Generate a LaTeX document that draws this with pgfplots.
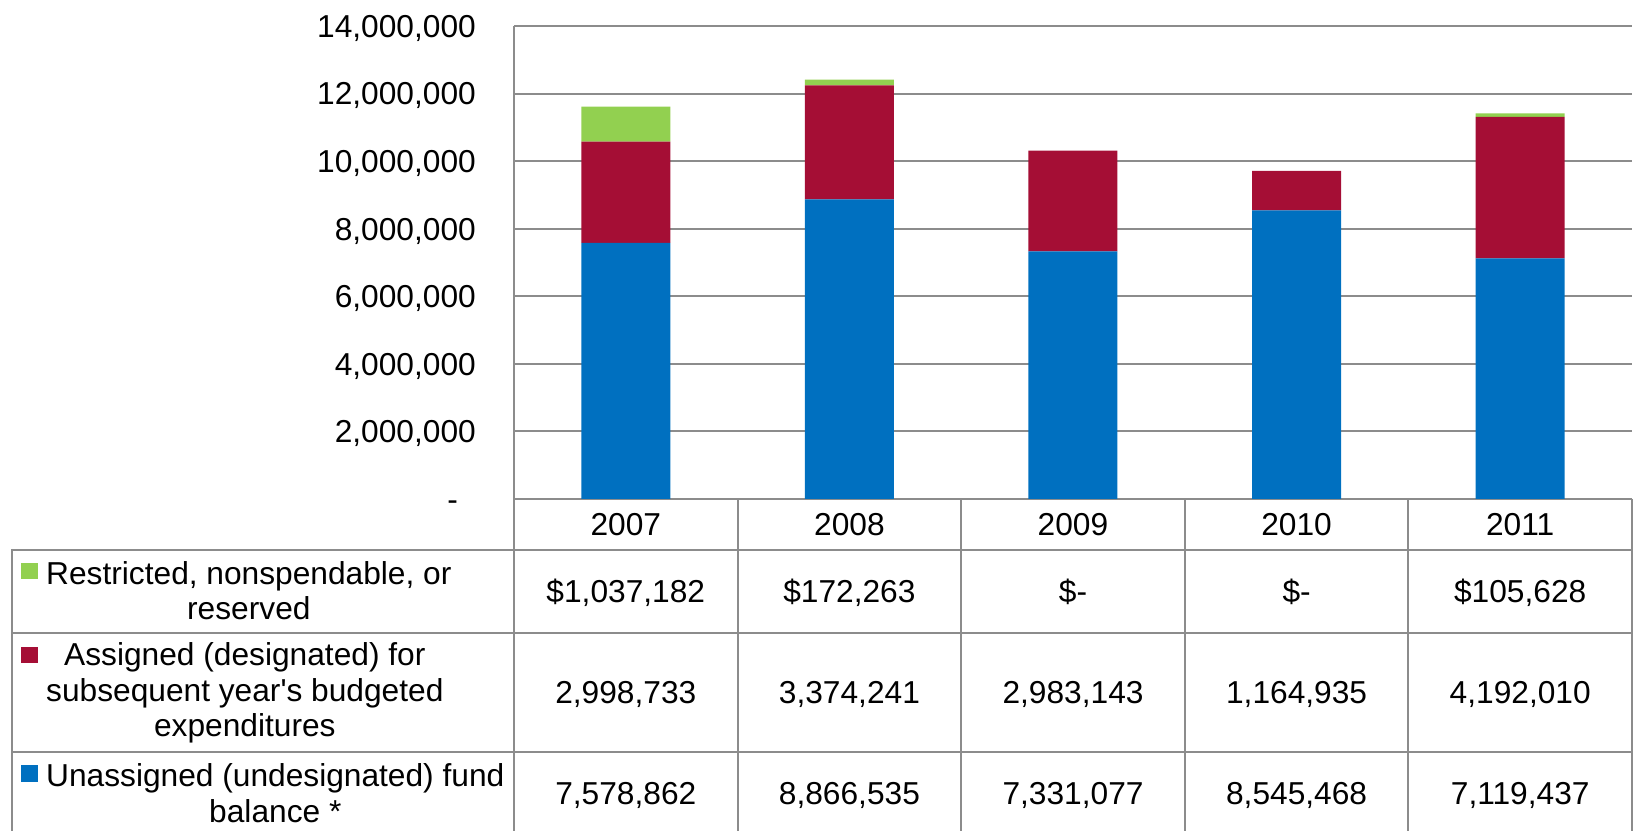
\documentclass[border=0pt]{standalone}
\usepackage{pgfplots}
\pgfplotsset{compat=1.18}
\usepackage{fontspec}
\setmainfont{Liberation Sans}
\definecolor{cblue}{HTML}{0070C0}
\definecolor{cred}{HTML}{A50E35}
\definecolor{cgreen}{HTML}{92D050}
\definecolor{cgrid}{HTML}{8C8C8C}
\newcommand{\tf}{\fontsize{31.7bp}{35.5bp}\selectfont}
\begin{document}
\begin{tikzpicture}[x=1bp,y=1bp]
\path[use as bounding box] (0,0) rectangle (1636,830);
\begin{axis}[
  at={(514bp,331bp)}, anchor=south west,
  scale only axis, width=1118bp, height=473bp,
  xmin=-0.5, xmax=4.5, ymin=0, ymax=14000000,
  ybar stacked, bar width=89bp,
  xtick={0,1,2,3,4}, xticklabels={2007,2008,2009,2010,2011},
  ytick={0,2000000,4000000,6000000,8000000,10000000,12000000,14000000},
  yticklabels={{-\rule{18bp}{0pt}},{2,000,000},{4,000,000},{6,000,000},{8,000,000},{10,000,000},{12,000,000},{14,000,000}},
  major tick length=0pt,
  ymajorgrids, grid style={cgrid, line width=2bp},
  axis x line*=bottom, axis y line*=left,
  axis line style={cgrid, line width=2bp, -},
  /pgf/number format/assume math mode=true,
  ticklabel style={font=\tf, inner sep=0pt},
  yticklabel style={anchor=base east, xshift=-38bp, yshift=-11.3bp},
  xticklabel style={anchor=base, yshift=-36.9bp},
  scaled y ticks=false,
]
\addplot[fill=cblue, draw=none] coordinates {(0,7578862) (1,8866535) (2,7331077) (3,8545468) (4,7119437)};
\addplot[fill=cred, draw=none] coordinates {(0,2998733) (1,3374241) (2,2983143) (3,1164935) (4,4192010)};
\addplot[fill=cgreen, draw=none] coordinates {(0,1037182) (1,172263) (2,0) (3,0) (4,105628)};
\end{axis}
% data table
\draw[cgrid, line width=2bp] (11.5,280) -- (1632,280);
\draw[cgrid, line width=2bp] (11.5,197) -- (1632,197);
\draw[cgrid, line width=2bp] (11.5,78) -- (1632,78);
\draw[cgrid, line width=2bp] (11.5,281) -- (11.5,-10);
\foreach \xx in {514,737.6,961.2,1184.8,1408.4,1632}{
  \draw[cgrid, line width=2bp] (\xx,331) -- (\xx,-10);
}
\fill[cgreen] (21,251) rectangle (38,267);
\fill[cred] (21,167) rectangle (38,183);
\fill[cblue] (21,48) rectangle (38,65);
\node[font=\tf, anchor=west, align=center, inner sep=0pt] at (46,239.5) {Restricted, nonspendable, or\\reserved};
\node[font=\tf, anchor=west, align=center, inner sep=0pt] at (46,137) {Assigned (designated) for\\subsequent year\textquotesingle s budgeted\\expenditures};
\node[font=\tf, anchor=west, align=center, inner sep=0pt] at (46,37) {Unassigned (undesignated) fund\\balance *};
\foreach \xx/\a/\b/\c in {625.8/{\$1,037,182}/{2,998,733}/{7,578,862},
                          849.4/{\$172,263}/{3,374,241}/{8,866,535},
                          1073/{\$-}/{2,983,143}/{7,331,077},
                          1296.6/{\$-}/{1,164,935}/{8,545,468},
                          1520.2/{\$105,628}/{4,192,010}/{7,119,437}}{
  \node[font=\tf, anchor=base, inner sep=0pt] at (\xx,227.2) {\a};
  \node[font=\tf, anchor=base, inner sep=0pt] at (\xx,126.2) {\b};
  \node[font=\tf, anchor=base, inner sep=0pt] at (\xx,25.2) {\c};
}
\end{tikzpicture}
\end{document}
